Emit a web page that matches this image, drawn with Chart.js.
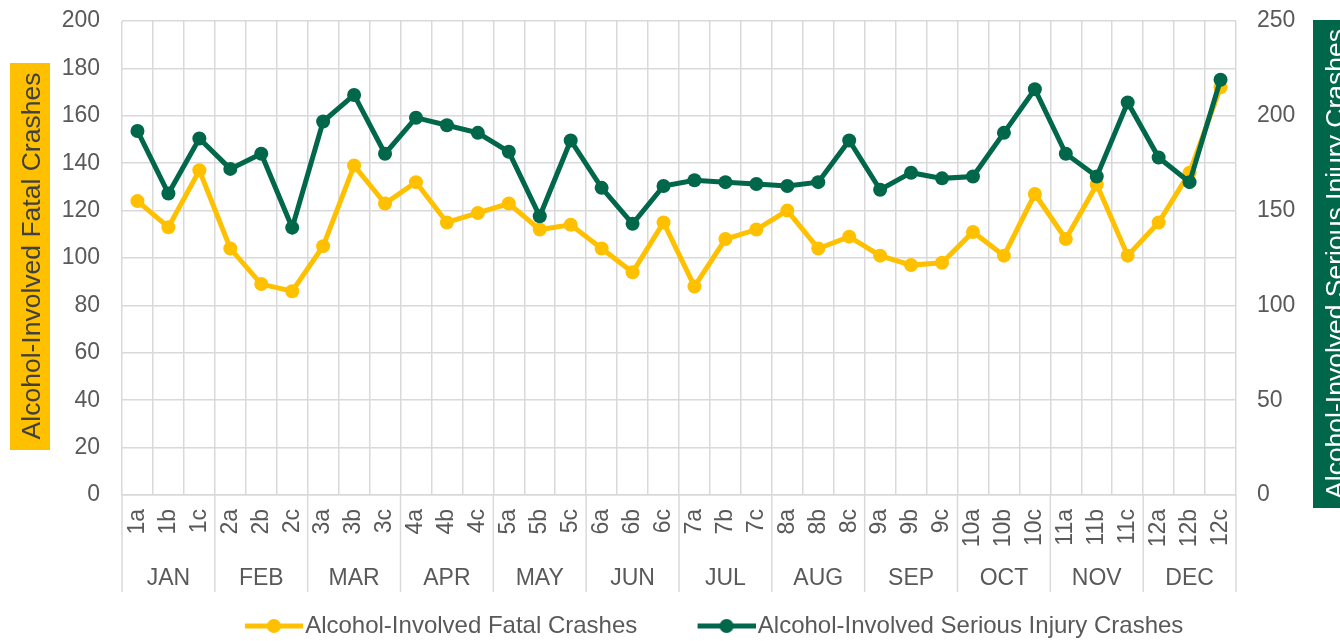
<!DOCTYPE html>
<html>
<head>
<meta charset="utf-8">
<script src="https://cdn.jsdelivr.net/npm/chart.js@4/dist/chart.umd.min.js"></script>
<style>
  html, body { margin: 0; padding: 0; background: #fff; }
  #wrap { width: 1340px; height: 641px; }
</style>
</head>
<body>
<div id="wrap"><canvas id="chart" width="1340" height="641"></canvas></div>
<script>
// Data
const subLabels = [
  "1a", "1b", "1c", "2a", "2b", "2c", "3a", "3b", "3c", "4a", "4b", "4c",
  "5a", "5b", "5c", "6a", "6b", "6c", "7a", "7b", "7c", "8a", "8b", "8c",
  "9a", "9b", "9c", "10a", "10b", "10c", "11a", "11b", "11c", "12a", "12b", "12c"
];
const months = ["JAN", "FEB", "MAR", "APR", "MAY", "JUN", "JUL", "AUG", "SEP", "OCT", "NOV", "DEC"];
const fatalCrashes = [
  124, 113, 137, 104, 89, 86, 105, 139, 123, 132, 115, 119,
  123, 112, 114, 104, 94, 115, 88, 108, 112, 120, 104, 109,
  101, 97, 98, 111, 101, 127, 108, 131, 101, 115, 136, 172
];
const injuryCrashes = [
  192, 159, 188, 172, 180, 141, 197, 211, 180, 199, 195, 191,
  181, 147, 187, 162, 143, 163, 166, 165, 164, 163, 165, 187,
  161, 170, 167, 168, 191, 214, 180, 168, 207, 178, 165, 219
];
const fatalLabel = "Alcohol-Involved Fatal Crashes";
const injuryLabel = "Alcohol-Involved Serious Injury Crashes";

const YELLOW = "#FFC000";
const GREEN = "#00674A";
const GRID = "#D9D9D9";
const TEXT = "#595959";
const FONT = "'Liberation Sans', Arial, sans-serif";

Chart.defaults.font.family = FONT;
Chart.defaults.color = TEXT;

// legend marker: line with a dot, drawn on a small canvas
function legendMarker(color) {
  const c = document.createElement("canvas");
  c.width = 118;
  c.height = 16;
  const ctx = c.getContext("2d");
  const x0 = c.width - 58;
  ctx.strokeStyle = color;
  ctx.lineWidth = 5;
  ctx.beginPath();
  ctx.moveTo(x0, 8);
  ctx.lineTo(c.width, 8);
  ctx.stroke();
  ctx.fillStyle = color;
  ctx.beginPath();
  ctx.arc(x0 + 29, 8, 7, 0, Math.PI * 2);
  ctx.fill();
  return c;
}
const markers = [legendMarker(YELLOW), legendMarker(GREEN)];

// keep the plot area exactly where the reference has it
function fixWidth(w) {
  return scale => {
    scale.width = w;
    scale.paddingTop = 0;
    scale.paddingBottom = 0;
  };
}

// Month separators and axis titles
const extras = {
  id: "extras",
  afterLayout(chart) {
    // nudge legend to the reference position
    const lg = chart.legend;
    lg.top += 7; lg.bottom += 7;
    lg.left += 19; lg.right += 19;
  },
  afterDraw(chart) {
    const ctx = chart.ctx;
    const x = chart.scales.x;
    const area = chart.chartArea;
    ctx.save();
    ctx.strokeStyle = GRID;
    ctx.lineWidth = 1.5;
    for (let m = 0; m <= months.length; m++) {
      const px = x.getPixelForValue(m * 3 - 0.5);
      ctx.beginPath();
      ctx.moveTo(px, area.bottom);
      ctx.lineTo(px, 592);
      ctx.stroke();
    }

    ctx.font = "26.5px " + FONT;
    ctx.textAlign = "center";
    ctx.textBaseline = "alphabetic";

    // left title
    ctx.fillStyle = YELLOW;
    ctx.fillRect(10, 63, 40, 387);
    ctx.translate(10, 256);
    ctx.rotate(-Math.PI / 2);
    ctx.fillStyle = "#404040";
    ctx.fillText(fatalLabel, 0, 30);
    ctx.setTransform(1, 0, 0, 1, 0, 0);

    // right title
    ctx.fillStyle = GREEN;
    ctx.fillRect(1313, 20, 40, 488);
    ctx.translate(1313, 264);
    ctx.rotate(-Math.PI / 2);
    ctx.fillStyle = "#FFFFFF";
    ctx.fillText(injuryLabel, 0, 31);
    ctx.restore();
  }
};

new Chart(document.getElementById("chart"), {
  type: "line",
  data: {
    labels: subLabels,
    datasets: [
      {
        label: fatalLabel,
        data: fatalCrashes,
        yAxisID: "y",
        xAxisID: "x",
        borderColor: YELLOW,
        backgroundColor: YELLOW,
        borderWidth: 5,
        pointRadius: 7,
        pointHoverRadius: 7,
        pointBorderWidth: 0,
        order: 2
      },
      {
        label: injuryLabel,
        data: injuryCrashes,
        yAxisID: "y1",
        xAxisID: "x",
        borderColor: GREEN,
        backgroundColor: GREEN,
        borderWidth: 5,
        pointRadius: 7,
        pointHoverRadius: 7,
        pointBorderWidth: 0,
        order: 1
      }
    ]
  },
  options: {
    responsive: false,
    animation: false,
    layout: { padding: { top: 21, left: 0, right: 0, bottom: 0 } },
    elements: { line: { tension: 0 }, point: { pointStyle: "circle" } },
    scales: {
      x: {
        type: "category",
        position: "bottom",
        offset: true,
        weight: 0,
        grid: { offset: true, color: GRID, lineWidth: 1.5, drawTicks: false },
        border: { display: true, color: GRID, width: 1.5 },
        ticks: {
          autoSkip: false,
          minRotation: 90,
          maxRotation: 90,
          padding: 14,
          font: { size: 23 },
          color: TEXT
        },
        afterFit(scale) { scale.height = 52; }
      },
      x2: {
        type: "category",
        labels: months,
        position: "bottom",
        offset: true,
        weight: 1,
        grid: { display: false, drawTicks: false },
        border: { display: false },
        ticks: { autoSkip: false, maxRotation: 0, padding: 18, font: { size: 23 }, color: TEXT },
        afterFit(scale) { scale.height = 50; }
      },
      y: {
        position: "left",
        min: 0,
        max: 200,
        ticks: { stepSize: 20, padding: 22, font: { size: 23 }, color: TEXT },
        grid: { color: GRID, lineWidth: 1.5, drawTicks: false },
        border: { display: false },
        afterFit: fixWidth(122)
      },
      y1: {
        position: "right",
        min: 0,
        max: 250,
        ticks: { stepSize: 50, padding: 21, font: { size: 23 }, color: TEXT },
        grid: { drawOnChartArea: false, drawTicks: false },
        border: { display: false },
        afterFit: fixWidth(104)
      }
    },
    plugins: {
      tooltip: { enabled: false },
      legend: {
        position: "bottom",
        labels: {
          usePointStyle: true,
          pointStyleWidth: 98.5,
          padding: 10,
          font: { size: 24 },
          color: TEXT,
          generateLabels(chart) {
            const items = Chart.defaults.plugins.legend.labels.generateLabels(chart);
            items.forEach(it => { it.pointStyle = markers[it.datasetIndex]; });
            return items;
          },
          sort: (a, b) => a.datasetIndex - b.datasetIndex
        }
      }
    }
  },
  plugins: [extras]
});
</script>
</body>
</html>
